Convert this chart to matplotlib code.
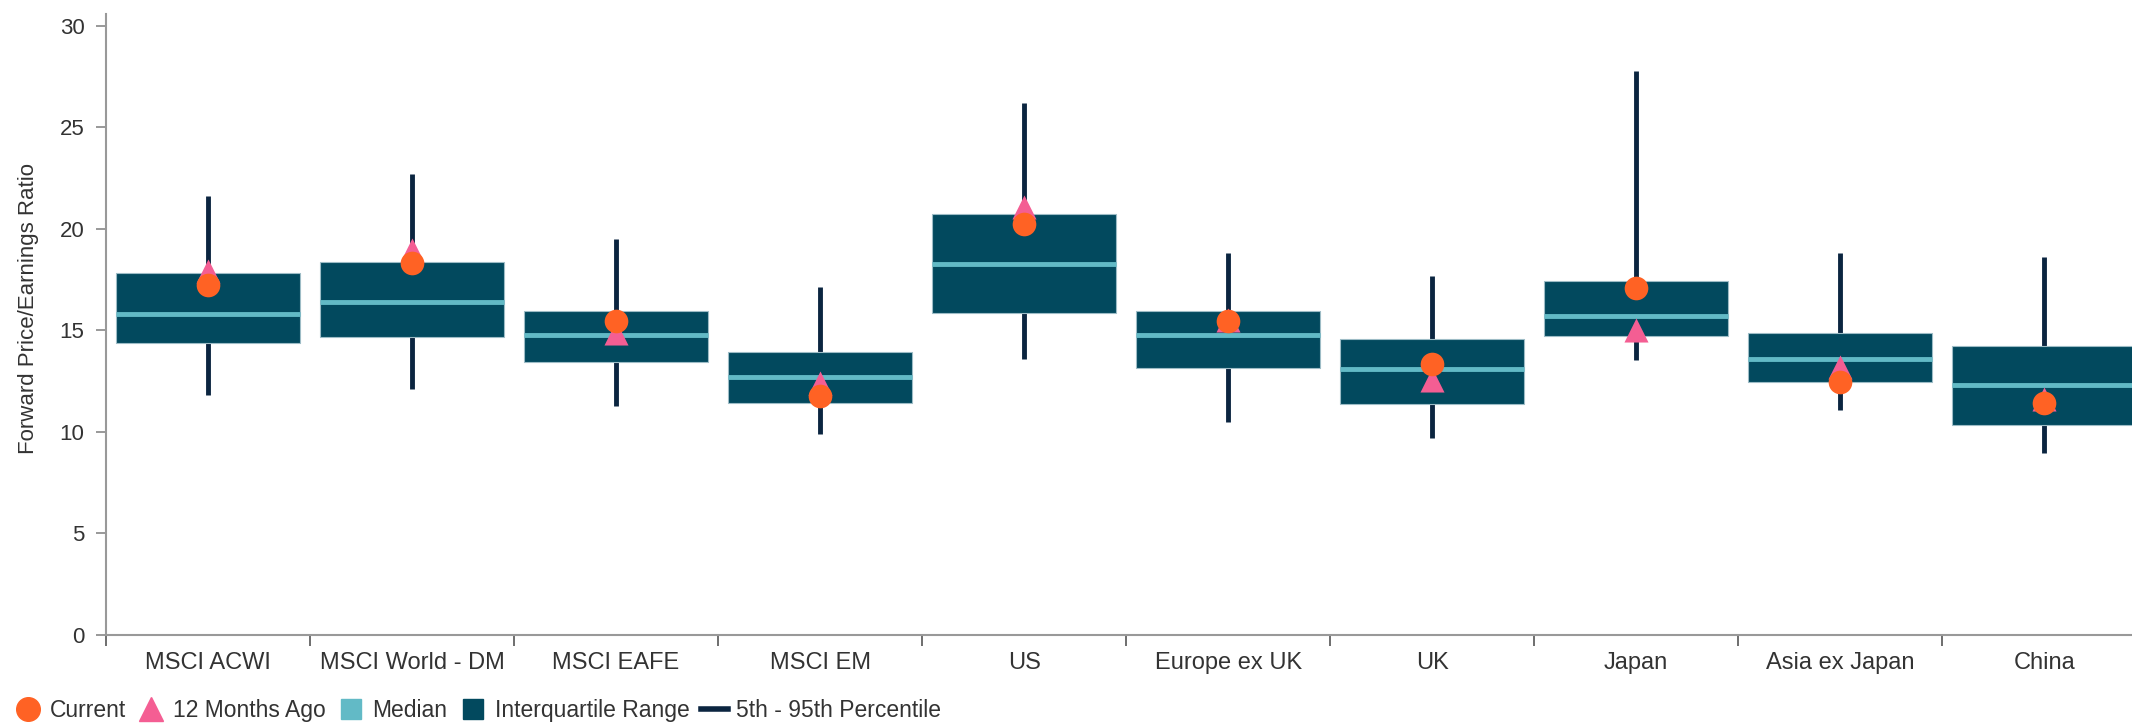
import matplotlib
matplotlib.use("Agg")
import matplotlib.pyplot as plt
from matplotlib.lines import Line2D
import numpy as np

plt.rcParams["font.family"] = ["Liberation Sans", "DejaVu Sans"]

categories = ["MSCI ACWI", "MSCI World - DM", "MSCI EAFE", "MSCI EM", "US",
              "Europe ex UK", "UK", "Japan", "Asia ex Japan", "China"]
p5 = [11.8, 12.1, 11.3, 9.9, 13.6, 10.5, 9.7, 13.55, 11.1, 8.95]
p95 = [21.6, 22.7, 19.5, 17.15, 26.2, 18.8, 17.7, 27.8, 18.8, 18.6]
q1 = [14.37, 14.66, 13.45, 11.45, 15.87, 13.13, 11.39, 14.73, 12.46, 10.34]
q3 = [17.82, 18.39, 15.94, 13.93, 20.76, 15.94, 14.6, 17.44, 14.86, 14.25]
median = [15.83, 16.39, 14.8, 12.73, 18.29, 14.8, 13.08, 15.73, 13.58, 12.32]
current = [17.24, 18.34, 15.47, 11.79, 20.23, 15.47, 13.34, 17.09, 12.46, 11.44]
months_ago = [17.95, 18.95, 14.87, 12.39, 21.1, 15.5, 12.55, 15.0, 13.2, 11.6]

c_box = "#02495e"
c_med = "#62bac6"
c_whisk = "#0b2540"
c_cur = "#ff6224"
c_ago = "#f45e93"
c_text = "#333333"

fig = plt.figure(figsize=(21.32, 7.24), dpi=100)
ax = fig.add_axes([0.0497, 0.123, 0.9503, 0.858])

x = np.arange(len(categories))
w = 0.9

# whiskers, boxes, medians, markers
ax.vlines(x, p5, p95, color=c_whisk, lw=3.5, zorder=1)
ax.bar(x, np.array(q3) - np.array(q1), bottom=q1, width=w, color=c_box,
       edgecolor="#9dbcc6", linewidth=0.8, zorder=2)
ax.hlines(median, x - w / 2, x + w / 2, color=c_med, lw=3.5, zorder=3)
ax.scatter(x, months_ago, marker="^", s=300, color=c_ago, zorder=4, linewidths=0)
ax.scatter(x, current, marker="o", s=290, color=c_cur, zorder=5, linewidths=0)

ax.set_xlim(-0.5, 9.43)
ax.set_ylim(0, 30.6)
ax.set_yticks([0, 5, 10, 15, 20, 25, 30])
ax.set_xticks(np.arange(-0.5, 9.5, 1.0))
ax.set_xticklabels([])
ax.set_xticks(x, minor=True)
ax.set_xticklabels(categories, minor=True)
ax.tick_params(axis="x", which="major", length=8, width=1.2, color="#555555")
ax.tick_params(axis="x", which="minor", length=0, pad=12, labelsize=17, labelcolor=c_text)
ax.tick_params(axis="y", length=7.5, width=1.2, color="#888888", labelsize=16,
               labelcolor=c_text, pad=8)

for s in ["top", "right"]:
    ax.spines[s].set_visible(False)
for s in ["left", "bottom"]:
    ax.spines[s].set_color("#999999")
    ax.spines[s].set_linewidth(1.5)

ax.set_ylabel("Forward Price/Earnings Ratio", fontsize=16, color=c_text)
ax.yaxis.set_label_coords(-0.033, 0.525)

handles = [
    Line2D([], [], marker="o", ls="none", color=c_cur, markersize=17),
    Line2D([], [], marker="^", ls="none", color=c_ago, markersize=17),
    Line2D([], [], marker="s", ls="none", color=c_med, markersize=14),
    Line2D([], [], marker="s", ls="none", color=c_box, markersize=14),
    Line2D([], [], color=c_whisk, lw=4),
]
labels = ["Current", "12 Months Ago", "Median", "Interquartile Range", "5th - 95th Percentile"]
fig.legend(handles, labels, loc="center left", bbox_to_anchor=(0.0066, 0.018), ncol=5,
           frameon=False, fontsize=16.5, labelcolor=c_text, handlelength=1.2,
           handletextpad=0.35, columnspacing=0.5, borderpad=0, borderaxespad=0)

fig.savefig("out.png", dpi=100)
